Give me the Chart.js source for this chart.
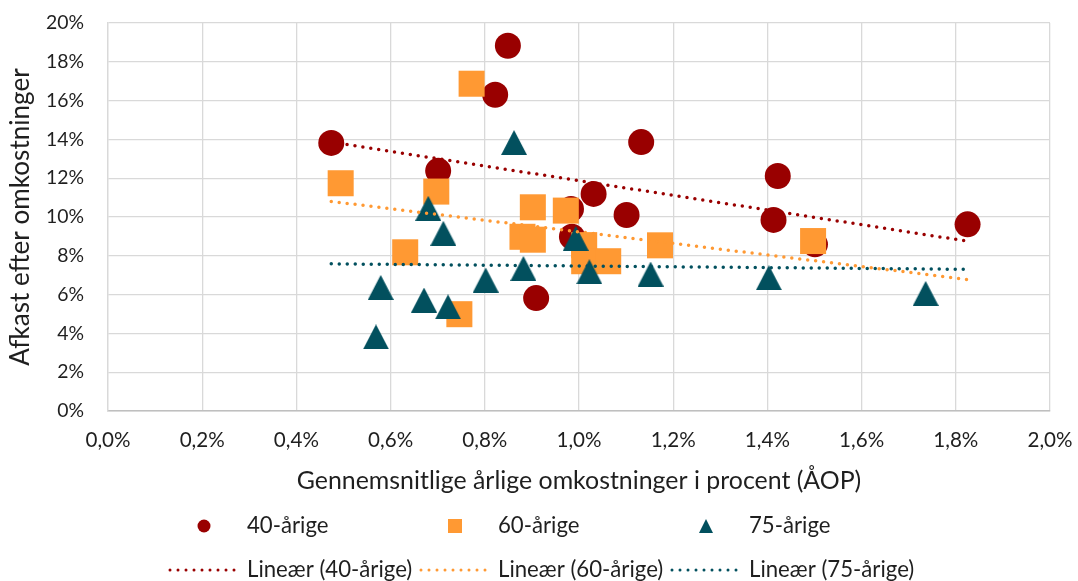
<!DOCTYPE html>
<html>
<head>
<meta charset="utf-8">
<script src="https://cdn.jsdelivr.net/npm/chart.js@4.4.1/dist/chart.umd.min.js"></script>
<style>
  html, body { margin: 0; padding: 0; background: #fff; }
</style>
</head>
<body>
<canvas id="chart" width="1078" height="581"></canvas>
<script>
'use strict';

// Values (percent)
var x40 = [0.474, 0.701, 0.849, 0.822, 0.909, 0.983, 0.985, 1.031, 1.132, 1.101, 1.422, 1.413, 1.501, 1.825];
var y40 = [13.82, 12.38, 18.83, 16.30, 5.82, 10.41, 8.98, 11.19, 13.86, 10.10, 12.11, 9.85, 8.59, 9.62];

var x60 = [0.494, 0.631, 0.697, 0.746, 0.772, 0.880, 0.902, 0.902, 0.972, 1.011, 1.011, 1.062, 1.172, 1.497];
var y60 = [11.74, 8.18, 11.31, 4.99, 16.87, 8.98, 8.83, 10.50, 10.33, 8.55, 7.72, 7.72, 8.54, 8.76];

var x75 = [0.579, 0.569, 0.680, 0.712, 0.671, 0.722, 0.802, 0.882, 0.993, 1.022, 1.152, 0.862, 1.403, 1.736];
var y75 = [6.37, 3.82, 10.45, 9.16, 5.72, 5.37, 6.75, 7.35, 8.90, 7.18, 7.06, 13.84, 6.87, 6.06];

var seriesNames = ['40-årige', '60-årige', '75-årige'];
var trendNames = ['Lineær (40-årige)', 'Lineær (60-årige)', 'Lineær (75-årige)'];
var xTitle = 'Gennemsnitlige årlige omkostninger i procent (ÅOP)';
var yTitle = 'Afkast efter omkostninger';

var RED = '#990000', ORANGE = '#FF9933', TEAL = '#02505E';
var FONT = 'Lato';
var TEXT = '#1f1f1f';

// font size so that a text gets the width it has in the original
var measureCtx = document.createElement('canvas').getContext('2d');
function fitSize(text, width){
  measureCtx.font = '100px ' + FONT;
  return Math.round(100 * width / measureCtx.measureText(text).width * 10) / 10;
}
var xTickSize = fitSize('0,6%', 45);
var yTickSize = fitSize('20%', 38);
var xTitleSize = fitSize(xTitle, 564);
var yTitleSize = fitSize(yTitle, 298);
var legendSize = fitSize(trendNames[0], 165);

function points(xs, ys){
  return xs.map(function(x, i){ return {x: x, y: ys[i]}; });
}

// Least squares line, drawn over the full x range of all series
var allX = x40.concat(x60, x75);
var minX = Math.min.apply(null, allX), maxX = Math.max.apply(null, allX);
function trend(xs, ys){
  var n = xs.length, mx = 0, my = 0, sxy = 0, sxx = 0;
  for (var i = 0; i < n; i++){ mx += xs[i]; my += ys[i]; }
  mx /= n; my /= n;
  for (var j = 0; j < n; j++){
    sxy += (xs[j] - mx) * (ys[j] - my);
    sxx += (xs[j] - mx) * (xs[j] - mx);
  }
  var b = sxy / sxx, a = my - b * mx;
  return [{x: minX, y: a + b * minX}, {x: maxX, y: a + b * maxX}];
}

function makeTriangle(w, h, color){
  var c = document.createElement('canvas');
  c.width = w; c.height = h;
  var g = c.getContext('2d');
  g.fillStyle = color;
  g.beginPath();
  g.moveTo(w / 2, 0); g.lineTo(w, h); g.lineTo(0, h);
  g.closePath(); g.fill();
  return c;
}
var triangle = makeTriangle(26, 25, TEAL);

function trendSet(label, data, color){
  return {
    label: label, data: data, showLine: true, order: 0,
    borderColor: color, borderWidth: 3.5, borderDash: [0, 8], borderCapStyle: 'round',
    pointRadius: 0, pointHoverRadius: 0
  };
}

// Custom two-row legend like the original
var legendRows = {
  id: 'legendRows',
  afterDraw: function(chart){
    var ctx = chart.ctx;
    var cx = chart.width / 2;
    var start = cx - 370, step = 251;
    var colors = [RED, ORANGE, TEAL];
    ctx.save();
    ctx.font = legendSize + 'px ' + FONT;
    ctx.textBaseline = 'middle';
    ctx.textAlign = 'left';
    var y1 = 526, y2 = 570;
    for (var i = 0; i < 3; i++){
      var mx = start + 35 + i * step;
      ctx.fillStyle = colors[i];
      if (i === 0){
        ctx.beginPath(); ctx.arc(mx, y1, 6.5, 0, Math.PI * 2); ctx.fill();
      } else if (i === 1){
        ctx.fillRect(mx - 7, y1 - 7, 14, 14);
      } else {
        ctx.beginPath(); ctx.moveTo(mx, y1 - 7); ctx.lineTo(mx + 7, y1 + 7); ctx.lineTo(mx - 7, y1 + 7);
        ctx.closePath(); ctx.fill();
      }
      ctx.fillStyle = TEXT;
      ctx.fillText(seriesNames[i], start + 78 + i * step, y1);

      var lx = start + i * step;
      ctx.strokeStyle = colors[i];
      ctx.lineWidth = 3;
      ctx.lineCap = 'round';
      ctx.setLineDash([0, 8]);
      ctx.beginPath(); ctx.moveTo(lx + 1, y2); ctx.lineTo(lx + 70, y2); ctx.stroke();
      ctx.setLineDash([]);
      ctx.fillText(trendNames[i], start + 78 + i * step, y2);
    }
    ctx.restore();
  }
};

new Chart(document.getElementById('chart'), {
  type: 'scatter',
  data: {
    datasets: [
      trendSet(trendNames[0], trend(x40, y40), RED),
      trendSet(trendNames[1], trend(x60, y60), ORANGE),
      trendSet(trendNames[2], trend(x75, y75), TEAL),
      {
        label: seriesNames[2], data: points(x75, y75), order: 1,
        pointStyle: triangle, pointRadius: 13, backgroundColor: TEAL, borderColor: TEAL
      },
      {
        label: seriesNames[1], data: points(x60, y60), order: 2,
        pointStyle: 'rect', pointRadius: 18.4, pointBorderWidth: 0,
        backgroundColor: ORANGE, borderColor: ORANGE
      },
      {
        label: seriesNames[0], data: points(x40, y40), order: 3,
        pointStyle: 'circle', pointRadius: 13, pointBorderWidth: 0,
        backgroundColor: RED, borderColor: RED
      }
    ]
  },
  options: {
    responsive: false,
    animation: false,
    events: [],
    layout: { padding: { top: 23, right: 28, bottom: 70, left: 0 } },
    plugins: {
      legend: { display: false },
      tooltip: { enabled: false }
    },
    scales: {
      x: {
        type: 'linear', min: 0, max: 2,
        afterFit: function(scale){
          scale.height = 100;
          scale.paddingLeft = 0; scale.paddingRight = 0;
        },
        ticks: {
          stepSize: 0.2, padding: 17, color: TEXT,
          font: { family: FONT, size: xTickSize },
          callback: function(v){ return v.toFixed(1).replace('.', ',') + '%'; }
        },
        grid: { color: '#d9d9d9', lineWidth: 1.3, drawTicks: false },
        border: { color: '#bfbfbf', width: 1.5 },
        title: {
          display: true, text: xTitle, color: TEXT,
          font: { family: FONT, size: xTitleSize },
          padding: { top: 0, bottom: 30 - xTitleSize * 0.6 }
        }
      },
      y: {
        min: 0, max: 20,
        afterFit: function(scale){
          scale.width = 108;
          scale.paddingTop = 0; scale.paddingBottom = 0;
        },
        ticks: {
          stepSize: 2, padding: 24, color: TEXT,
          font: { family: FONT, size: yTickSize },
          callback: function(v){ return v + '%'; }
        },
        grid: { color: '#d9d9d9', lineWidth: 1.3, drawTicks: false },
        border: { color: '#d9d9d9', width: 1.3 },
        title: {
          display: true, text: yTitle, color: TEXT,
          font: { family: FONT, size: yTitleSize },
          padding: { top: 21 - yTitleSize * 0.6, bottom: 0 }
        }
      }
    }
  },
  plugins: [legendRows]
});
</script>
</body>
</html>
